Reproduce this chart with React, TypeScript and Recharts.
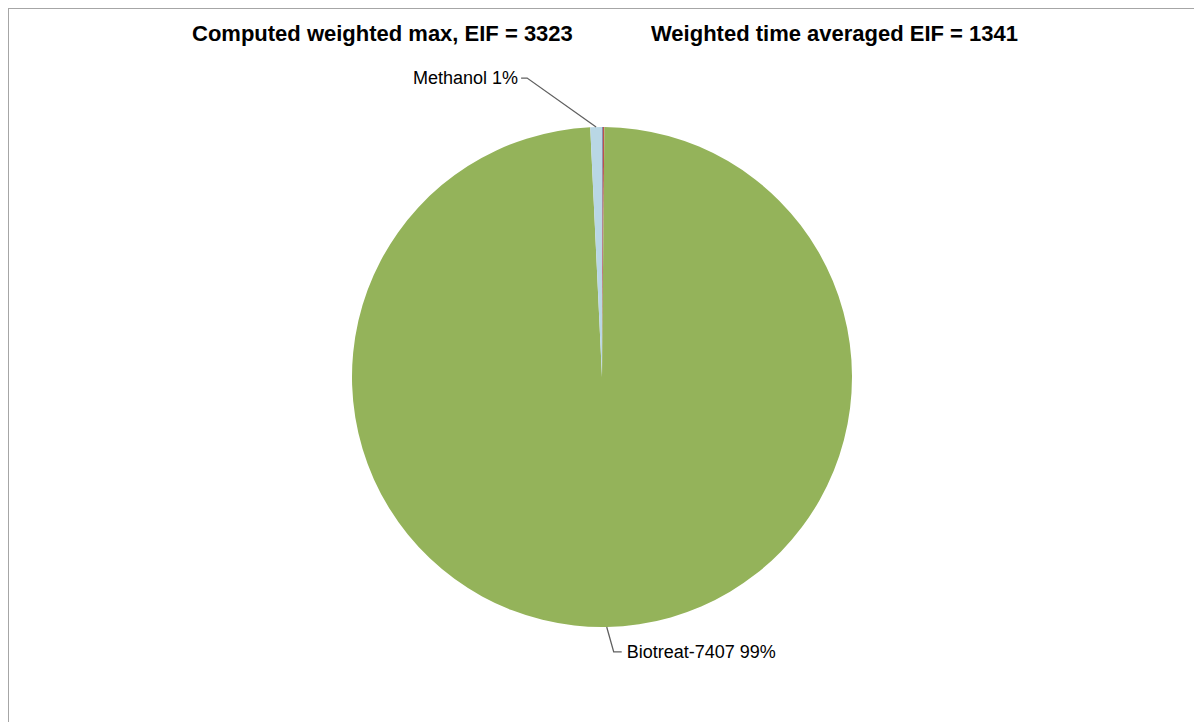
import React from "react";
import { PieChart, Pie, Cell } from "recharts";

const names = ["Trace A", "Trace B", "Biotreat-7407", "Methanol"];
const values = [0.05, 0.1, 99.1, 0.75];
const colors = ["#4F81BD", "#C0504D", "#94B35A", "#B9D7E5"];
const labelled = ["Biotreat-7407", "Methanol"];
const titles = ["Computed weighted max, EIF = 3323", "Weighted time averaged EIF = 1341"];

const data = names.map((name, i) => ({ name, value: values[i] }));

const RADIAN = Math.PI / 180;
const FONT = "'Liberation Sans', Arial, sans-serif";

function renderLabel(props: any) {
  const { cx, cy, outerRadius, midAngle, name, percent } = props;
  if (!labelled.includes(name)) return null;
  const sx = cx + outerRadius * Math.cos(-midAngle * RADIAN);
  const sy = cy + outerRadius * Math.sin(-midAngle * RADIAN);
  const text = `${name} ${Math.round(percent * 100)}%`;
  // leader line: elbow then short horizontal run
  const up = sy < cy;
  const ex = up ? sx - 69 : sx + 7;
  const ey = up ? sy - 49 : sy + 25;
  const hx = up ? ex - 6 : ex + 8;
  return (
    <g>
      <polyline
        points={`${sx},${sy} ${ex},${ey} ${hx},${ey}`}
        fill="none"
        stroke="#606060"
        strokeWidth={1.3}
      />
      <text
        x={up ? hx - 3 : hx + 5}
        y={ey}
        textAnchor={up ? "end" : "start"}
        dominantBaseline="central"
        fontFamily={FONT}
        fontSize={18}
        fill="#000"
      >
        {text}
      </text>
    </g>
  );
}

const titleStyle: React.CSSProperties = {
  position: "absolute",
  top: 12,
  fontFamily: FONT,
  fontWeight: "bold",
  fontSize: 22,
  whiteSpace: "nowrap",
};

export default function App() {
  return (
    <div
      style={{
        position: "relative",
        width: 1194,
        height: 714,
        borderTop: "1px solid #a6a6a6",
        borderLeft: "1px solid #a6a6a6",
        background: "#fff",
        boxSizing: "border-box",
      }}
    >
      <div style={{ ...titleStyle, left: 183 }}>{titles[0]}</div>
      <div style={{ ...titleStyle, left: 642 }}>{titles[1]}</div>
      <PieChart width={1193} height={713} margin={{ top: 0, right: 0, bottom: 0, left: 0 }}>
        <Pie
          data={data}
          dataKey="value"
          nameKey="name"
          cx={593}
          cy={368}
          outerRadius={250}
          startAngle={90}
          endAngle={-270}
          label={renderLabel}
          labelLine={false}
          stroke="none"
          isAnimationActive={false}
        >
          {data.map((d, i) => (
            <Cell key={d.name} fill={colors[i]} />
          ))}
        </Pie>
      </PieChart>
    </div>
  );
}
